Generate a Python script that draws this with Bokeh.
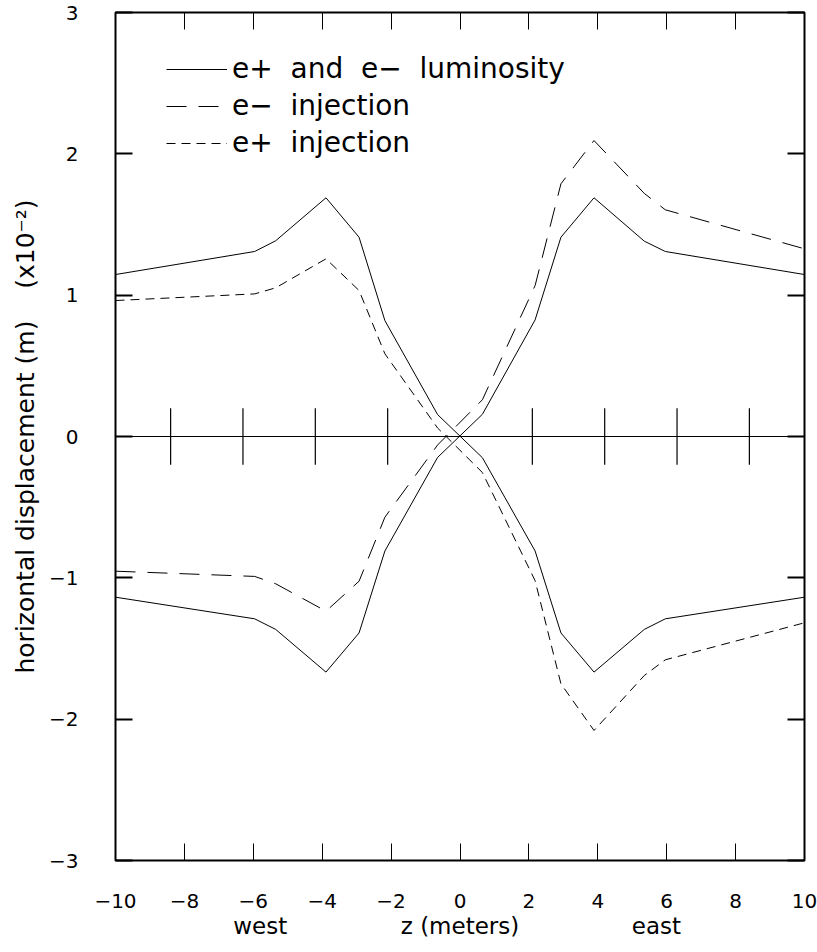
from bokeh.plotting import figure
from bokeh.models import Range1d, LinearAxis, FixedTicker, Span, Legend, LegendItem
from bokeh.embed import file_html
from bokeh.resources import INLINE

# ---- data ----
z_pts = [-10, -5.96, -5.35, -3.89, -2.93, -2.18, -0.65, 0.65, 2.18, 2.93, 3.89, 5.35, 5.96, 10]
lum_a = [1.146, 1.309, 1.385, 1.689, 1.41, 0.82, 0.155, -0.15, -0.81, -1.39, -1.667, -1.365, -1.29, -1.137]
lum_b = [-1.137, -1.29, -1.365, -1.667, -1.39, -0.81, -0.148, 0.157, 0.825, 1.41, 1.689, 1.382, 1.309, 1.146]
e_minus_inj = [-0.953, -0.99, -1.042, -1.236, -1.024, -0.571, -0.06, 0.26, 1.068, 1.788, 2.094, 1.72, 1.604, 1.328]
e_plus_inj = [0.962, 1.009, 1.052, 1.257, 1.033, 0.585, 0.06, -0.255, -1.02, -1.75, -2.08, -1.691, -1.58, -1.318]
magnet_z = [-8.4, -6.3, -4.2, -2.1, 2.1, 4.2, 6.3, 8.4]
magnet_half = 0.2
x_ticks = [-10, -8, -6, -4, -2, 0, 2, 4, 6, 8, 10]
y_ticks = [-3, -2, -1, 0, 1, 2, 3]
side_labels = {-5.8: "west", 0: "z (meters)", 5.7: "east"}
SP = "\u00a0 "
legend_labels = ["e+" + SP + "and" + SP + "e\u2212" + SP + "luminosity",
                 "e\u2212" + SP + "injection",
                 "e+" + SP + "injection"]

FONT = "DejaVu Sans"

def minus(v):
    return str(v).replace("-", "\u2212")

p = figure(width=817, height=952, x_range=Range1d(-10, 10), y_range=Range1d(-3, 3),
           output_backend="svg", toolbar_location=None,
           min_border_left=115, min_border_right=13, min_border_top=12, min_border_bottom=92,
           background_fill_color="white", border_fill_color="white",
           outline_line_color="black", outline_line_width=2)
p.grid.visible = False

# bottom axis
xa = p.xaxis[0]
xa.ticker = FixedTicker(ticks=x_ticks, minor_ticks=[])
xa.major_label_overrides = {t: minus(t) for t in x_ticks}
xa.major_tick_in = 17
xa.major_tick_out = 0
xa.minor_tick_line_color = None
xa.axis_line_color = None
xa.major_tick_line_color = "black"
xa.major_tick_line_width = 1
xa.major_label_text_font = FONT
xa.major_label_text_font_size = "20px"
xa.major_label_text_color = "black"
xa.major_label_standoff = 33

# second bottom axis: west / z (meters) / east
xa2 = LinearAxis(ticker=FixedTicker(ticks=list(side_labels.keys()), minor_ticks=[]),
                 major_label_overrides=side_labels,
                 axis_line_color=None, major_tick_line_color=None, minor_tick_line_color=None,
                 major_tick_in=0, major_tick_out=0, major_label_standoff=2,
                 major_label_text_font=FONT, major_label_text_font_size="23px",
                 major_label_text_color="black")
p.add_layout(xa2, "below")

# left axis
ya = p.yaxis[0]
ya.ticker = FixedTicker(ticks=y_ticks, minor_ticks=[])
ya.major_label_overrides = {t: minus(t) for t in y_ticks}
ya.major_tick_in = 17
ya.major_tick_out = 0
ya.minor_tick_line_color = None
ya.axis_line_color = None
ya.major_tick_line_color = "black"
ya.major_tick_line_width = 2
ya.major_label_text_font = FONT
ya.major_label_text_font_size = "20px"
ya.major_label_text_color = "black"
ya.major_label_standoff = 37
ya.axis_label = "horizontal displacement (m)" + "\u00a0" * 4 + "(x10\u207b\u00b2)"
ya.axis_label_text_font = FONT
ya.axis_label_text_font_size = "25px"
ya.axis_label_text_font_style = "normal"
ya.axis_label_text_color = "black"
ya.axis_label_standoff = 6

# mirrored tick axes (top / right), no labels
top = LinearAxis(ticker=FixedTicker(ticks=x_ticks, minor_ticks=[]),
                 major_tick_in=17, major_tick_out=0, major_tick_line_width=1,
                 minor_tick_line_color=None, axis_line_color=None,
                 major_label_text_color=None, major_label_text_font_size="1px",
                 major_label_standoff=0)
p.add_layout(top, "above")
right = LinearAxis(ticker=FixedTicker(ticks=y_ticks, minor_ticks=[]),
                   major_tick_in=17, major_tick_out=0, major_tick_line_width=2,
                   minor_tick_line_color=None, axis_line_color=None,
                   major_label_text_color=None, major_label_text_font_size="1px",
                   major_label_standoff=0)
p.add_layout(right, "right")

# beam line and magnet markers
p.add_layout(Span(location=0, dimension="width", line_color="black", line_width=1))
p.segment(x0=magnet_z, y0=[-magnet_half] * len(magnet_z), x1=magnet_z,
          y1=[magnet_half] * len(magnet_z), line_color="black", line_width=1.2)

r1 = p.line(z_pts, lum_a, line_color="black", line_width=1)
r2 = p.line(z_pts, lum_b, line_color="black", line_width=1)
r3 = p.line(z_pts, e_minus_inj, line_color="black", line_width=1, line_dash="20 12")
r4 = p.line(z_pts, e_plus_inj, line_color="black", line_width=1, line_dash="9 6")

legend = Legend(items=[LegendItem(label=legend_labels[0], renderers=[r1]),
                       LegendItem(label=legend_labels[1], renderers=[r3]),
                       LegendItem(label=legend_labels[2], renderers=[r4])],
                location=(51, 701), glyph_width=61, glyph_height=30, label_height=30,
                spacing=4, padding=0, margin=0, border_line_color=None,
                background_fill_alpha=0, label_text_font=FONT, label_text_font_size="28px",
                label_text_color="black", label_standoff=5)
p.add_layout(legend)

open("out.html", "w").write(file_html(p, INLINE))
